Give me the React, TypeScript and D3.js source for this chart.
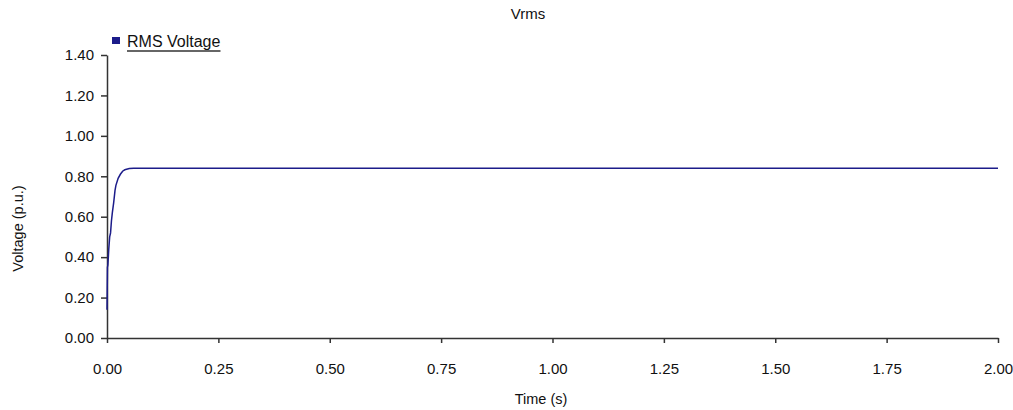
import React, { useEffect, useRef } from 'react';
import * as d3 from 'd3';

// time (s) and RMS voltage (p.u.)
const times = [0, 0.001, 0.002, 0.004, 0.006, 0.008, 0.010, 0.012, 0.015, 0.018, 0.020, 0.025, 0.030, 0.035, 0.040, 0.050, 0.060, 0.080, 0.100, 2.00];
const volts = [0.14, 0.35, 0.36, 0.44, 0.50, 0.52, 0.58, 0.62, 0.67, 0.73, 0.755, 0.79, 0.81, 0.825, 0.832, 0.838, 0.840, 0.840, 0.840, 0.840];

const xTicks = [0, 0.25, 0.5, 0.75, 1.0, 1.25, 1.5, 1.75, 2.0];
const yTicks = [0, 0.2, 0.4, 0.6, 0.8, 1.0, 1.2, 1.4];

const seriesName = 'RMS Voltage';
const chartTitle = 'Vrms';

export default function App() {
  const svgRef = useRef<SVGSVGElement>(null);
  const width = 1013;
  const height = 410;

  useEffect(() => {
    const svg = d3.select(svgRef.current);
    svg.selectAll('*').remove();
    const font = 'Liberation Sans, Arial, sans-serif';
    const axisColor = '#333';
    const lineColor = '#1c1c8a';

    const x = d3.scaleLinear().domain([0, 2]).range([107, 998]);
    const y = d3.scaleLinear().domain([0, 1.4]).range([338, 55]);

    // title
    svg.append('text')
      .attr('x', 528).attr('y', 19)
      .attr('text-anchor', 'middle')
      .attr('font-family', font).attr('font-size', 15)
      .attr('fill', '#111')
      .text(chartTitle);

    // y axis
    const yAxis = svg.append('g')
      .attr('transform', `translate(${x(0)},0)`)
      .call(d3.axisLeft(y).tickValues(yTicks).tickFormat(d3.format('.2f')).tickSize(6).tickPadding(7).tickSizeOuter(0));
    yAxis.select('.domain').attr('stroke', axisColor).attr('stroke-width', 1.5);
    yAxis.selectAll('.tick line').attr('stroke', axisColor).attr('stroke-width', 1.5);
    yAxis.selectAll('.tick text')
      .attr('font-family', font).attr('font-size', 15).attr('fill', '#111');

    // x axis
    const xAxis = svg.append('g')
      .attr('transform', `translate(0,${y(0)})`)
      .call(d3.axisBottom(x).tickValues(xTicks).tickFormat(d3.format('.2f')).tickSize(5).tickPadding(20).tickSizeOuter(0));
    xAxis.select('.domain').attr('stroke', axisColor).attr('stroke-width', 1.5);
    xAxis.selectAll('.tick line').attr('stroke', axisColor).attr('stroke-width', 1.5);
    xAxis.selectAll('.tick text')
      .attr('font-family', font).attr('font-size', 15).attr('fill', '#111');

    // axis labels
    svg.append('text')
      .attr('x', 541).attr('y', 404)
      .attr('text-anchor', 'middle')
      .attr('font-family', font).attr('font-size', 14.5).attr('fill', '#111')
      .text('Time (s)');
    svg.append('text')
      .attr('transform', `translate(23,${(y(0) + y(1.4)) / 2 + 32}) rotate(-90)`)
      .attr('text-anchor', 'middle')
      .attr('font-family', font).attr('font-size', 14.5).attr('fill', '#111')
      .text('Voltage (p.u.)');

    // legend
    svg.append('rect')
      .attr('x', 112).attr('y', 37).attr('width', 8).attr('height', 7)
      .attr('fill', lineColor);
    const leg = svg.append('text')
      .attr('x', 127).attr('y', 47)
      .attr('font-family', font).attr('font-size', 16).attr('fill', '#111')
      .text(seriesName);
    const bb = (leg.node() as SVGTextElement).getBBox();
    svg.append('line')
      .attr('x1', bb.x).attr('x2', bb.x + bb.width)
      .attr('y1', 51).attr('y2', 51)
      .attr('stroke', '#333').attr('stroke-width', 1.5);

    // series
    const pts = times.map((t, i) => [t, volts[i]] as [number, number]);
    const line = d3.line<[number, number]>()
      .x(d => x(d[0]))
      .y(d => y(d[1]));
    svg.append('path')
      .datum(pts)
      .attr('fill', 'none')
      .attr('stroke', lineColor)
      .attr('stroke-width', 1.5)
      .attr('d', line);
  }, []);

  return (
    <svg
      ref={svgRef}
      width={width}
      height={height}
      style={{ position: 'absolute', left: 0, top: 0, background: '#fff' }}
    />
  );
}
